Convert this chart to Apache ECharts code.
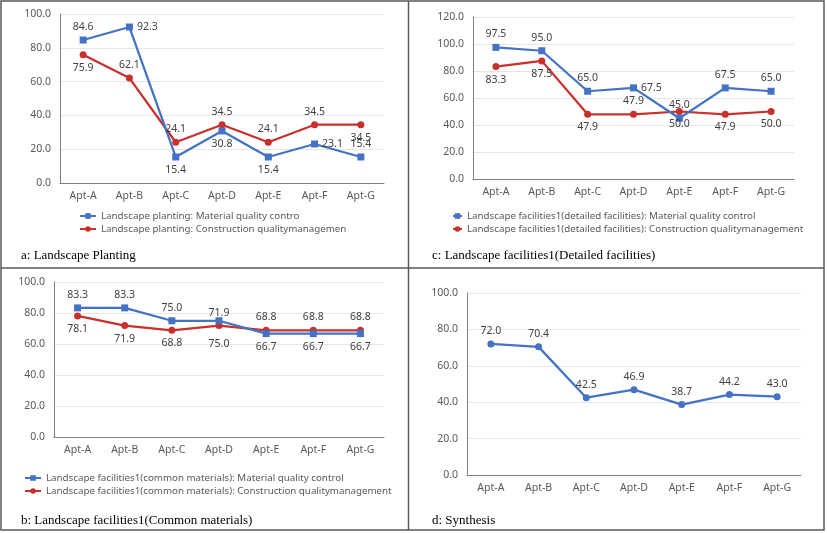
<!DOCTYPE html>
<html>
<head>
<meta charset="utf-8">
<script src="https://cdn.jsdelivr.net/npm/echarts@6/dist/echarts.min.js"></script>
<style>
html,body{margin:0;padding:0;background:#fff;}
#chart{width:827px;height:533px;}
</style>
</head>
<body>
<div id="chart"></div>
<script>
const categories = ['Apt-A', 'Apt-B', 'Apt-C', 'Apt-D', 'Apt-E', 'Apt-F', 'Apt-G'];

// a: Landscape Planting
const aMaterial = [84.6, 92.3, 15.4, 30.8, 15.4, 23.1, 15.4];
const aConstruction = [75.9, 62.1, 24.1, 34.5, 24.1, 34.5, 34.5];
// c: Landscape facilities1 (Detailed facilities)
const cMaterial = [97.5, 95.0, 65.0, 67.5, 45.0, 67.5, 65.0];
const cConstruction = [83.3, 87.5, 47.9, 47.9, 50.0, 47.9, 50.0];
// b: Landscape facilities1 (Common materials)
const bMaterial = [83.3, 83.3, 75.0, 75.0, 66.7, 66.7, 66.7];
const bConstruction = [78.1, 71.9, 68.8, 71.9, 68.8, 68.8, 68.8];
// d: Synthesis
const dSynthesis = [72.0, 70.4, 42.5, 46.9, 38.7, 44.2, 43.0];

// label placement (style only)
const aMatPos = ['top', 'right', 'bottom', 'bottom', 'bottom', 'right', 'top'];
const aConPos = ['bottom', 'top', 'top', 'top', 'top', 'top', 'bottom'];
const cMatPos = ['top', 'top', 'top', 'right', 'top', 'top', 'top'];
const cConPos = ['bottom', 'bottom', 'bottom', 'top', 'bottom', 'bottom', 'bottom'];
const bMatPos = ['top', 'top', 'top', 'bottom', 'bottom', 'bottom', 'bottom'];
const bConPos = ['bottom', 'bottom', 'bottom', 'top', 'top', 'top', 'top'];
const bMatDist = [4, 4, 4, 14, 4, 4, 4];

const BLUE = '#4472C4';
const RED = '#C9302C';
const FONT = 'Noto Sans';
const TXT = '#404040';

const grids = [
  {left: 60, top: 14, width: 324, height: 169},   // a
  {left: 473, top: 17, width: 321, height: 162},  // c
  {left: 54, top: 282, width: 330, height: 155},  // b
  {left: 467, top: 293, width: 334, height: 182}  // d
];
const yMax = [100, 120, 100, 100];

function mkData(vals, pos, dist) {
  return vals.map((v, i) => ({value: v, label: {position: pos ? pos[i] : 'top', distance: dist ? dist[i] : 4}}));
}
function mkSeries(name, vals, pos, idx, color, symbol, dist) {
  return {
    name: name, type: 'line', xAxisIndex: idx, yAxisIndex: idx,
    data: mkData(vals, pos, dist),
    symbol: symbol, symbolSize: 7,
    lineStyle: {color: color, width: 2.25},
    itemStyle: {color: color},
    label: {show: true, color: TXT, fontFamily: FONT, fontSize: 10.5,
      formatter: p => Number(p.value).toFixed(1)},
    emphasis: {disabled: true},
    animation: false
  };
}

const xAxes = grids.map((g, i) => ({
  type: 'category', gridIndex: i, data: categories, boundaryGap: true,
  axisLine: {show: true, lineStyle: {color: '#7F7F7F', width: 1}},
  axisTick: {show: false},
  axisLabel: {color: '#595959', fontFamily: FONT, fontSize: 10.5, margin: 8}
}));
const yAxes = grids.map((g, i) => ({
  type: 'value', gridIndex: i, min: 0, max: yMax[i], interval: 20,
  axisLine: {show: true, lineStyle: {color: '#7F7F7F', width: 1}},
  axisTick: {show: false},
  splitLine: {show: true, lineStyle: {color: '#E6E6E6', width: 1}},
  axisLabel: {color: '#595959', fontFamily: FONT, fontSize: 10.5, margin: 9,
    formatter: v => v.toFixed(1)}
}));

const nA1 = 'Landscape planting: Material quality contro';
const nA2 = 'Landscape planting: Construction qualitymanagemen';
const nC1 = 'Landscape facilities1(detailed facilities): Material quality control';
const nC2 = 'Landscape facilities1(detailed facilities): Construction qualitymanagement';
const nB1 = 'Landscape facilities1(common materials): Material quality control';
const nB2 = 'Landscape facilities1(common materials): Construction qualitymanagement';

const series = [
  mkSeries(nA2, aConstruction, aConPos, 0, RED, 'circle'),
  mkSeries(nA1, aMaterial, aMatPos, 0, BLUE, 'rect'),
  mkSeries(nC2, cConstruction, cConPos, 1, RED, 'circle'),
  mkSeries(nC1, cMaterial, cMatPos, 1, BLUE, 'rect'),
  mkSeries(nB2, bConstruction, bConPos, 2, RED, 'circle'),
  mkSeries(nB1, bMaterial, bMatPos, 2, BLUE, 'rect', bMatDist),
  mkSeries('Synthesis', dSynthesis, null, 3, BLUE, 'circle')
];

function mkLegend(name, left, top, w) {
  return {
    data: [name], left: left, top: top, orient: 'horizontal', padding: 0,
    itemWidth: w, itemHeight: 7, selectedMode: false,
    textStyle: {color: '#595959', fontFamily: FONT, fontSize: 9.75}
  };
}
const legends = [
  mkLegend(nA1, 79, 211, 16), mkLegend(nA2, 79, 224, 16),
  mkLegend(nC1, 452, 211, 9), mkLegend(nC2, 452, 224, 9),
  mkLegend(nB1, 24, 473, 16), mkLegend(nB2, 24, 486, 16)
];

const captions = [
  {text: 'a: Landscape Planting', x: 21, y: 256},
  {text: 'c: Landscape facilities1(Detailed facilities)', x: 432, y: 256},
  {text: 'b: Landscape facilities1(Common materials)', x: 21, y: 521},
  {text: 'd: Synthesis', x: 432, y: 521}
];
const BORDER = '#595959';
const graphic = [
  {type: 'rect', shape: {x: 1, y: 1, width: 823, height: 529}, style: {fill: 'none', stroke: BORDER, lineWidth: 1.5}, silent: true},
  {type: 'line', shape: {x1: 408.5, y1: 1, x2: 408.5, y2: 530}, style: {stroke: BORDER, lineWidth: 1.5}, silent: true},
  {type: 'line', shape: {x1: 1, y1: 268, x2: 824, y2: 268}, style: {stroke: BORDER, lineWidth: 1.5}, silent: true}
].concat(captions.map(c => ({
  type: 'text', x: c.x, y: c.y, silent: true,
  style: {text: c.text, fill: '#000', font: '13px "Liberation Serif"', textVerticalAlign: 'middle', verticalAlign: 'middle'}
})));

const chart = echarts.init(document.getElementById('chart'), null, {renderer: 'canvas'});
chart.setOption({
  backgroundColor: '#fff',
  animation: false,
  grid: grids,
  xAxis: xAxes,
  yAxis: yAxes,
  legend: legends,
  series: series,
  graphic: graphic
});
</script>
</body>
</html>
